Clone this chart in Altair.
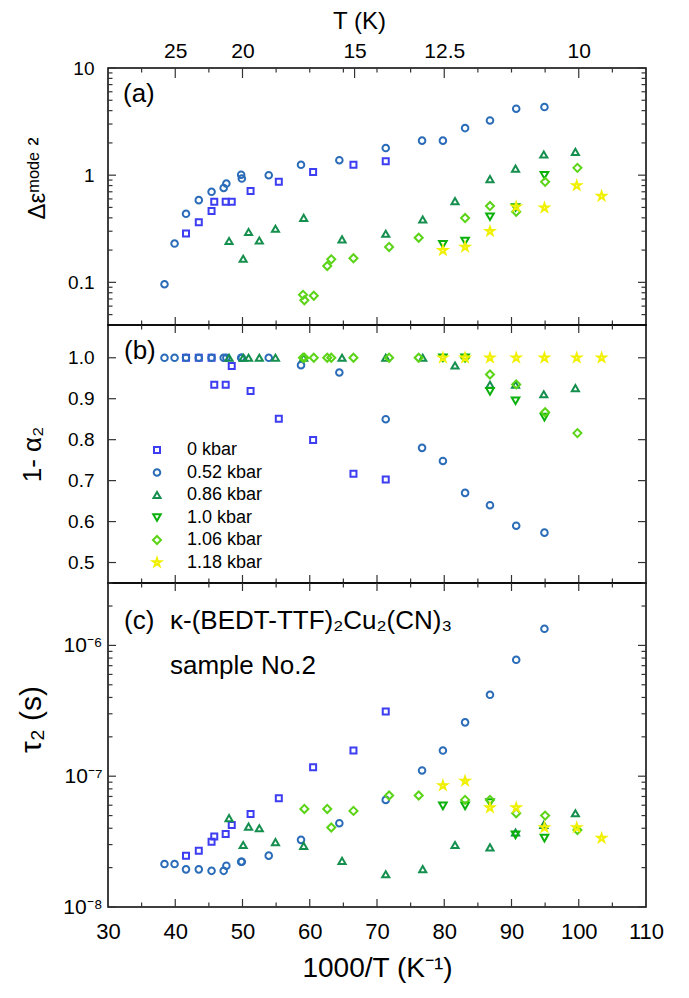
import altair as alt
import pandas as pd

FONT = "Liberation Sans"
TICK = "#333333"

SERIES = ["0 kbar", "0.52 kbar", "0.86 kbar", "1.0 kbar", "1.06 kbar", "1.18 kbar"]
COLORS = ["#3d3df2", "#2b6cb8", "#158f4e", "#0bb00b", "#5bd418", "#f0f000"]
STAR = ("M0,-1L0.2245,-0.309L0.951,-0.309L0.363,0.118L0.588,0.809L0,0.382"
        "L-0.588,0.809L-0.363,0.118L-0.951,-0.309L-0.2245,-0.309Z")
SHAPES = ["square", "circle", "triangle-up", "triangle-down", "diamond", STAR]
SIZES = [36, 72, 78, 78, 72, 190]
STROKES = [2, 2, 2, 2, 2, 1.2]

# ---------------- panel (a): Delta epsilon (mode 2) ----------------
a_x_0 = [41.6, 43.5, 45.4, 45.8, 47.5, 48.4, 51.2, 55.4, 60.5, 66.5, 71.3]
a_y_0 = [0.286, 0.363, 0.462, 0.565, 0.565, 0.565, 0.71, 0.87, 1.07, 1.25, 1.35]
a_x_052 = [38.4, 39.9, 41.6, 43.5, 45.4, 47.2, 47.6, 49.8, 49.9, 53.9, 58.7, 64.4,
           71.3, 76.7, 79.8, 83.1, 86.8, 90.7, 94.9]
a_y_052 = [0.096, 0.23, 0.436, 0.585, 0.70, 0.76, 0.836, 1.01, 0.93, 1.0, 1.25, 1.38,
           1.79, 2.1, 2.1, 2.75, 3.24, 4.17, 4.32]
a_x_086 = [48.0, 50.1, 50.9, 52.5, 54.9, 59.1, 64.8, 71.3, 76.8, 81.6, 86.8, 90.6, 94.8, 99.5]
a_y_086 = [0.243, 0.166, 0.295, 0.246, 0.316, 0.40, 0.252, 0.284, 0.386, 0.573, 0.92,
           1.15, 1.56, 1.65]
a_x_10 = [79.8, 83.1, 86.8, 90.6, 94.9]
a_y_10 = [0.226, 0.243, 0.41, 0.50, 1.0]
a_x_106 = [59.0, 59.2, 60.6, 62.6, 63.2, 66.5, 71.8, 76.2, 83.1, 86.8, 90.7, 95.0, 99.8]
a_y_106 = [0.0765, 0.068, 0.075, 0.142, 0.164, 0.168, 0.214, 0.261, 0.398, 0.515, 0.456,
           0.867, 1.17]
a_x_118 = [79.8, 83.1, 86.8, 90.7, 94.9, 99.7, 103.4]
a_y_118 = [0.199, 0.214, 0.30, 0.507, 0.497, 0.80, 0.638]

# ---------------- panel (b): 1 - alpha2 ----------------
b_x_0 = a_x_0
b_y_0 = [1.0, 1.0, 1.0, 0.934, 0.934, 0.98, 0.919, 0.851, 0.799, 0.717, 0.703]
b_x_052 = a_x_052
b_y_052 = [1.0, 1.0, 1.0, 1.0, 1.0, 1.0, 1.0, 1.0, 1.0, 1.0, 0.982, 0.964,
           0.85, 0.78, 0.748, 0.67, 0.64, 0.59, 0.573]
b_x_086 = a_x_086
b_y_086 = [1.0, 1.0, 1.0, 1.0, 1.0, 1.0, 1.0, 1.0, 1.0, 0.981, 0.934, 0.934, 0.911, 0.926]
b_x_10 = a_x_10
b_y_10 = [1.0, 1.0, 0.918, 0.895, 0.855]
b_x_106 = a_x_106
b_y_106 = [1.0, 1.0, 1.0, 1.0, 1.0, 1.0, 1.0, 1.0, 1.0, 0.959, 0.935, 0.867, 0.816]
b_x_118 = a_x_118
b_y_118 = [1.0, 1.0, 1.0, 1.0, 1.0, 1.0, 1.0]

# ---------------- panel (c): tau2 (s) ----------------
c_x_0 = a_x_0
c_y_0 = [2.47e-8, 2.69e-8, 3.16e-8, 3.46e-8, 3.62e-8, 4.24e-8, 5.15e-8, 6.79e-8,
         1.17e-7, 1.57e-7, 3.13e-7]
c_x_052 = a_x_052
c_y_052 = [2.13e-8, 2.13e-8, 1.94e-8, 1.94e-8, 1.89e-8, 1.89e-8, 2.07e-8, 2.22e-8,
           2.22e-8, 2.47e-8, 3.26e-8, 4.37e-8, 6.59e-8, 1.106e-7, 1.57e-7, 2.58e-7,
           4.19e-7, 7.76e-7, 1.34e-6]
c_x_086 = a_x_086
c_y_086 = [4.78e-8, 2.98e-8, 4.12e-8, 4.0e-8, 3.13e-8, 2.93e-8, 2.25e-8, 1.78e-8,
           1.95e-8, 2.98e-8, 2.86e-8, 3.71e-8, 4.24e-8, 5.21e-8]
c_x_10 = a_x_10
c_y_10 = [5.93e-8, 5.93e-8, 6.3e-8, 3.56e-8, 3.36e-8]
c_x_106 = [59.2, 62.6, 63.2, 66.5, 71.8, 76.2, 83.1, 86.8, 90.7, 95.0, 99.8]
c_y_106 = [5.62e-8, 5.62e-8, 4.05e-8, 5.43e-8, 7.12e-8, 7.12e-8, 6.59e-8, 6.59e-8,
           5.21e-8, 5.0e-8, 3.88e-8]
c_x_118 = a_x_118
c_y_118 = [8.49e-8, 9.2e-8, 5.75e-8, 5.75e-8, 4.05e-8, 4.05e-8, 3.36e-8]

# ---------------- tick values ----------------
X_LABELS = [30, 40, 50, 60, 70, 80, 90, 100, 110]
X_MAJOR = [40, 50, 60, 70, 80, 90, 100]
X_MINOR = [35, 45, 55, 65, 75, 85, 95, 105]
T_VALUES = [25, 20, 15, 12.5, 10]
T_POS = [1000.0 / t for t in T_VALUES]
TOP_MINOR = [35, 45, 55, 60, 65, 70, 75, 85, 90, 95, 105]

A_MAJOR = [0.1, 1, 10]
A_MINOR = [0.05, 0.06, 0.07, 0.08, 0.09, 0.2, 0.3, 0.4, 0.5, 0.6, 0.7, 0.8, 0.9,
           2, 3, 4, 5, 6, 7, 8, 9]
B_MAJOR = [0.5, 0.6, 0.7, 0.8, 0.9, 1.0]
C_MAJOR = [1e-8, 1e-7, 1e-6]
C_MINOR = [2e-8, 3e-8, 4e-8, 5e-8, 6e-8, 7e-8, 8e-8, 9e-8,
           2e-7, 3e-7, 4e-7, 5e-7, 6e-7, 7e-7, 8e-7, 9e-7, 2e-6, 3e-6]

W = 538
HA, HB, HC = 257, 258, 324


def frame(pairs):
    rows = []
    for name, xs, ys in pairs:
        for x, y in zip(xs, ys):
            rows.append({"x": x, "y": y, "p": name})
    return pd.DataFrame(rows)


df_a = frame([(SERIES[0], a_x_0, a_y_0), (SERIES[1], a_x_052, a_y_052),
              (SERIES[2], a_x_086, a_y_086), (SERIES[3], a_x_10, a_y_10),
              (SERIES[4], a_x_106, a_y_106), (SERIES[5], a_x_118, a_y_118)])
df_b = frame([(SERIES[0], b_x_0, b_y_0), (SERIES[1], b_x_052, b_y_052),
              (SERIES[2], b_x_086, b_y_086), (SERIES[3], b_x_10, b_y_10),
              (SERIES[4], b_x_106, b_y_106), (SERIES[5], b_x_118, b_y_118)])
df_c = frame([(SERIES[0], c_x_0, c_y_0), (SERIES[1], c_x_052, c_y_052),
              (SERIES[2], c_x_086, c_y_086), (SERIES[3], c_x_10, c_y_10),
              (SERIES[4], c_x_106, c_y_106), (SERIES[5], c_x_118, c_y_118)])

xscale = alt.Scale(domain=[30, 110], nice=False, zero=False)


def xticks(vals, h, top, length, xaxis):
    d = pd.DataFrame({"x": vals})
    y1 = 0 if top else h
    y2 = length if top else h - length
    return alt.Chart(d).mark_rule(color=TICK, strokeWidth=1.2).encode(
        x=alt.X("x:Q", scale=xscale, axis=xaxis),
        y=alt.value(y1), y2=alt.value(y2))


def yticks(vals, yscale, length, yaxis):
    d = pd.DataFrame({"y": vals})
    left = alt.Chart(d).mark_rule(color=TICK, strokeWidth=1.2).encode(
        y=alt.Y("y:Q", scale=yscale, axis=yaxis),
        x=alt.value(0), x2=alt.value(length))
    right = alt.Chart(d).mark_rule(color=TICK, strokeWidth=1.2).encode(
        y=alt.Y("y:Q", scale=yscale, axis=yaxis),
        x=alt.value(W - length), x2=alt.value(W))
    return [left, right]


def label(text, x, y, size=26):
    return alt.Chart(pd.DataFrame({"t": [text]})).mark_text(
        align="left", baseline="middle", fontSize=size, font=FONT, color="black"
    ).encode(text="t:N", x=alt.value(x), y=alt.value(y))


def points(df, yscale, xaxis, yaxis, legend):
    return alt.Chart(df).mark_point(filled=False, opacity=1).encode(
        x=alt.X("x:Q", scale=xscale, axis=xaxis),
        y=alt.Y("y:Q", scale=yscale, axis=yaxis),
        color=alt.Color("p:N", scale=alt.Scale(domain=SERIES, range=COLORS), legend=legend),
        shape=alt.Shape("p:N", scale=alt.Scale(domain=SERIES, range=SHAPES), legend=legend),
        size=alt.Size("p:N", scale=alt.Scale(domain=SERIES, range=SIZES), legend=legend),
        strokeWidth=alt.StrokeWidth("p:N", scale=alt.Scale(domain=SERIES, range=STROKES),
                                    legend=legend),
    )


# ---- panel (a)
ya = alt.Scale(type="log", domain=[0.04, 10], nice=False)
xaxis_a = alt.Axis(orient="top", values=T_POS, title="T (K)",
                   labelExpr="format(round(10000/datum.value)/10, '~g')",
                   ticks=False, domain=False, grid=False, labelFontSize=21,
                   labelFlush=False, labelPadding=7, titleFontSize=24, titlePadding=7,
                   titleX=251)
yaxis_a = alt.Axis(values=A_MAJOR, format="~g", title="Δεᵐᵒᵈᵉ ²", ticks=False,
                   domain=False, grid=False, labelFontSize=19, labelPadding=14,
                   titleFontSize=24, titlePadding=18, titleY=110)
panel_a = alt.layer(
    points(df_a, ya, xaxis_a, yaxis_a, None),
    xticks(T_POS, HA, True, 10, xaxis_a), xticks(TOP_MINOR, HA, True, 4.5, xaxis_a),
    xticks(X_MAJOR, HA, False, 8, xaxis_a), xticks(X_MINOR, HA, False, 4.5, xaxis_a),
    *yticks(A_MAJOR, ya, 8, yaxis_a), *yticks(A_MINOR, ya, 4.5, yaxis_a),
    label("(a)", 15, 26),
).properties(width=W, height=HA)

# ---- panel (b)
yb = alt.Scale(domain=[0.45, 1.08], nice=False, zero=False)
yaxis_b = alt.Axis(values=B_MAJOR, format=".1f", title="1- α₂", ticks=False,
                   domain=False, grid=False, labelFontSize=19, labelPadding=14,
                   titleFontSize=26, titlePadding=22)
legend_b = alt.Legend(orient="none", legendX=40, legendY=116, title=None,
                      labelFontSize=18, labelFont=FONT, labelColor="black",
                      labelOffset=21, rowPadding=4.5, padding=0)
panel_b = alt.layer(
    points(df_b, yb, None, yaxis_b, legend_b),
    xticks(X_MAJOR, HB, True, 8, None), xticks(X_MINOR, HB, True, 4.5, None),
    xticks(X_MAJOR, HB, False, 8, None), xticks(X_MINOR, HB, False, 4.5, None),
    *yticks(B_MAJOR, yb, 8, yaxis_b),
    label("(b)", 16, 26),
).properties(width=W, height=HB)

# ---- panel (c)
yc = alt.Scale(type="log", domain=[1e-8, 3e-6], nice=False)
xaxis_c = alt.Axis(values=X_LABELS, format="d", title="1000/T (K⁻¹)", ticks=False,
                   domain=False, grid=False, labelFontSize=22, labelPadding=14,
                   labelFlush=False, titleFontSize=28, titlePadding=12)
yaxis_c = alt.Axis(values=C_MAJOR, title="τ₂ (s)", ticks=False, domain=False, grid=False,
                   labelExpr="datum.value < 5e-8 ? '10⁻⁸' : (datum.value < 5e-7 ? '10⁻⁷' : '10⁻⁶')",
                   labelFontSize=21, labelPadding=6, titleFontSize=30, titlePadding=16,
                   titleY=136)
panel_c = alt.layer(
    points(df_c, yc, xaxis_c, yaxis_c, None),
    xticks(X_MAJOR, HC, True, 8, xaxis_c), xticks(X_MINOR, HC, True, 4.5, xaxis_c),
    xticks(X_MAJOR, HC, False, 8, xaxis_c), xticks(X_MINOR, HC, False, 4.5, xaxis_c),
    *yticks(C_MAJOR, yc, 8, yaxis_c), *yticks(C_MINOR, yc, 4.5, yaxis_c),
    label("(c)", 16, 38),
    label("κ-(BEDT-TTF)₂Cu₂(CN)₃", 62, 38),
    label("sample No.2", 62, 83),
).properties(width=W, height=HC)

chart = alt.vconcat(panel_a, panel_b, panel_c, spacing=0, bounds="flush").resolve_scale(
    color="independent", shape="independent", size="independent", strokeWidth="independent"
).properties(
    padding={"left": 8, "top": 0, "right": 5, "bottom": 5}
).configure_view(
    stroke="black", strokeWidth=1.5
).configure_axis(
    labelFont=FONT, titleFont=FONT, labelColor="black", titleColor="black",
    titleFontWeight="normal"
).configure_legend(labelFont=FONT)

chart.save("out.html", embed_options={"renderer": "svg", "actions": False})
